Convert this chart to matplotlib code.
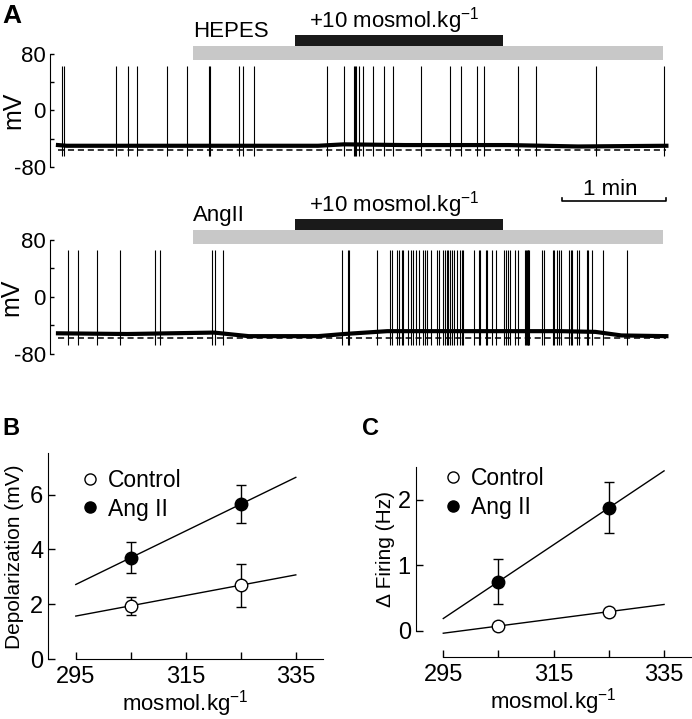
import matplotlib
matplotlib.use('Agg')
import matplotlib.pyplot as plt
from matplotlib.lines import Line2D
import numpy as np

plt.rcParams['font.family'] = ['Liberation Sans', 'DejaVu Sans']
plt.rcParams['mathtext.default'] = 'regular'

# ---- panel A data (time in s, voltage in mV) ----
hepes_spikes = [2.1, 3.6, 33.3, 40.2, 45.7, 62.7, 74.2, 87.1, 87.9, 104.6, 106.6,
                113.3, 155.0, 164.9, 170.7, 171.3, 171.9, 173.8, 175.8, 181.6,
                188.1, 193.1, 209.2, 226.1, 232.3, 241.5, 245.7, 265.3, 275.9,
                310.4, 349.8]
angii_spikes = [5.8, 11.5, 22.5, 35.8, 56.0, 58.8, 88.8, 90.6, 95.2,
                163.7, 167.1, 168.1, 183.9, 191.5, 192.5, 195.4, 196.7, 198.3,
                199.2, 201.7, 203.5, 204.6, 206.4, 208.3, 210.7, 211.7, 212.7,
                215.0, 218.5, 220.0, 222.3, 223.3, 224.2, 225.2, 226.1, 227.1,
                228.5, 230.0, 231.9, 232.9, 233.5, 240.0, 242.9, 243.5, 246.7,
                247.3, 250.2, 252.5, 257.5, 258.5, 259.4, 260.8, 263.6, 265.6,
                269.4, 270.0, 270.4, 271.0, 271.3, 271.9, 279.0, 280.4, 285.4,
                286.3, 287.7, 289.0, 290.2, 295.0, 295.8, 296.7, 299.2, 300.7,
                305.4, 305.9, 307.9, 314.6, 328.4]
hepes_base_t = [0, 5, 60, 150, 165, 200, 260, 300, 351]
hepes_base_v = [-49, -50, -50, -50, -48, -49, -49, -51, -50]
angii_base_t = [0, 40, 90, 110, 150, 165, 190, 240, 290, 310, 325, 351]
angii_base_v = [-51, -52, -50, -55, -55, -52, -48, -48, -48, -49, -54, -55]
hepes_rest = -56
angii_rest = -57.5
trace_end = 351
hepes_peak, hepes_trough = 63, -64
angii_peak, angii_trough = 66, -67
bath_on, bath_off = 78, 349
osmo_on, osmo_off = 137, 257
scale_len = 60

# ---- panels B and C ----
osm = [305, 325]
fit_x = [295, 335]
dep_ctrl = [1.95, 2.7]
dep_ctrl_err = [0.33, 0.78]
dep_ang = [3.7, 5.65]
dep_ang_err = [0.56, 0.7]
fir_ctrl = [0.07, 0.29]
fir_ctrl_err = [0.03, 0.03]
fir_ang = [0.75, 1.88]
fir_ang_err = [0.35, 0.39]

fig = plt.figure(figsize=(6.92, 7.19), dpi=100)


def trace(ax, spikes, bt, bv, rest, peak, trough, name, gray_y, black_y, txt_y, osm_y):
    ax.plot(bt, bv, color='k', lw=3.0)
    ax.vlines(spikes, trough, peak, color='k', lw=0.8)
    ax.plot([0, trace_end], [rest, rest], color='k', lw=1.1, dashes=(4, 2.5))
    ax.barh(gray_y, bath_off - bath_on, left=bath_on, height=19.6, color='#c8c8c8')
    ax.barh(black_y, osmo_off - osmo_on, left=osmo_on, height=15.5, color='#1a1a1a')
    ax.text(bath_on, txt_y, name, fontsize=16, va='baseline')
    ax.text(osmo_on + 8, osm_y, '+10 mosmol.kg$^{-1}$', fontsize=16, va='baseline')
    ax.set_xlim(-4.6, 360)
    for s in ['top', 'right', 'bottom']:
        ax.spines[s].set_visible(False)
    ax.spines['left'].set_bounds(-80, 80)
    ax.set_xticks([])
    ax.set_yticks([-80, 0, 80])
    ax.set_yticklabels(['-80', '0', '80'])
    ax.set_yticks([-40, 40], minor=True)
    ax.tick_params(axis='y', which='both', direction='in', length=3, width=1,
                   labelsize=16, pad=3)
    ax.set_ylabel('mV', fontsize=18)


axA1 = fig.add_axes([0.07225, 0.7677, 0.9133, 0.2267])
axA1.set_ylim(-80, 150)
trace(axA1, hepes_spikes, hepes_base_t, hepes_base_v, hepes_rest, hepes_peak,
      hepes_trough, 'HEPES', 81.4, 98.95, 103.9, 116.5)
axA1.yaxis.set_label_coords(-0.0396, 0.348)

axA2 = fig.add_axes([0.07225, 0.5077, 0.9133, 0.2428])
axA2.set_ylim(-80, 165)
trace(axA2, angii_spikes, angii_base_t, angii_base_v, angii_rest, angii_peak,
      angii_trough, 'AngII', 84.2, 101.75, 106.7, 119.3)
axA2.yaxis.set_label_coords(-0.0427, 0.3265)
t0 = trace_end - scale_len
axA2.plot([t0, t0, trace_end, trace_end], [139.4, 134.7, 134.7, 139.4], color='k',
          lw=1.2, clip_on=False)
axA2.text(t0 + scale_len * 0.46, 143.2, '1 min', fontsize=16, ha='center', va='baseline')


def xy_panel(ax, ctrl, ctrl_err, ang, ang_err, ylab):
    for y in (ctrl, ang):
        k = np.polyfit(osm, y, 1)
        ax.plot(fit_x, np.polyval(k, fit_x), color='k', lw=1)
    ax.errorbar(osm, ctrl, yerr=ctrl_err, fmt='o', ms=9, mfc='white', mec='k',
                mew=1, ecolor='k', elinewidth=1, capsize=3.5, capthick=1, zorder=3)
    ax.errorbar(osm, ang, yerr=ang_err, fmt='o', ms=9, mfc='k', mec='k',
                mew=1, ecolor='k', elinewidth=1, capsize=3.5, capthick=1, zorder=3)
    ax.set_xlim(290, 340)
    ax.spines['top'].set_visible(False)
    ax.spines['right'].set_visible(False)
    ax.spines['bottom'].set_bounds(295, 340)
    ax.set_xticks([295, 305, 315, 325, 335])
    ax.set_xticklabels(['295', '', '315', '', '335'])
    ax.tick_params(direction='in', length=5, width=1, labelsize=17)
    ax.tick_params(axis='x', pad=5)
    ax.tick_params(axis='y', pad=3.5)
    ax.set_xlabel('mosmol.kg$^{-1}$', fontsize=16, labelpad=0)
    ax.set_ylabel(ylab, fontsize=15)
    handles = [Line2D([], [], marker='o', ls='none', ms=8, mfc='white', mec='k'),
               Line2D([], [], marker='o', ls='none', ms=8, mfc='k', mec='k')]
    return handles


axB = fig.add_axes([0.0698, 0.0830, 0.3974, 0.2865])
axB.set_ylim(0, 7.5)
hB = xy_panel(axB, dep_ctrl, dep_ctrl_err, dep_ang, dep_ang_err, 'Depolarization (mV)')
axB.spines['left'].set_bounds(0, 7.5)
axB.set_yticks([0, 2, 4, 6])
axB.yaxis.set_label_coords(-0.088, 0.5)
axB.legend(hB, ['Control', 'Ang II'], loc='upper left', bbox_to_anchor=(0.11, 0.925),
           frameon=False, fontsize=16.5, handlelength=1, handletextpad=0.28,
           labelspacing=0.25, borderpad=0, borderaxespad=0)

axC = fig.add_axes([0.6007, 0.0866, 0.3988, 0.2635])
axC.set_ylim(-0.4, 2.5)
hC = xy_panel(axC, fir_ctrl, fir_ctrl_err, fir_ang, fir_ang_err, 'Δ Firing (Hz)')
axC.spines['left'].set_bounds(0, 2.5)
axC.set_yticks([0, 1, 2])
axC.yaxis.set_label_coords(-0.075, 0.569)
axC.legend(hC, ['Control', 'Ang II'], loc='upper left', bbox_to_anchor=(0.0935, 0.999),
           frameon=False, fontsize=16.5, handlelength=1, handletextpad=0.28,
           labelspacing=0.25, borderpad=0, borderaxespad=0)

fig.text(0.003, 0.995, 'A', fontsize=19, fontweight='bold', va='top')
fig.text(0.004, 0.42, 'B', fontsize=17, fontweight='bold', va='top')
fig.text(0.523, 0.42, 'C', fontsize=17, fontweight='bold', va='top')

fig.savefig('out.png', dpi=100)
